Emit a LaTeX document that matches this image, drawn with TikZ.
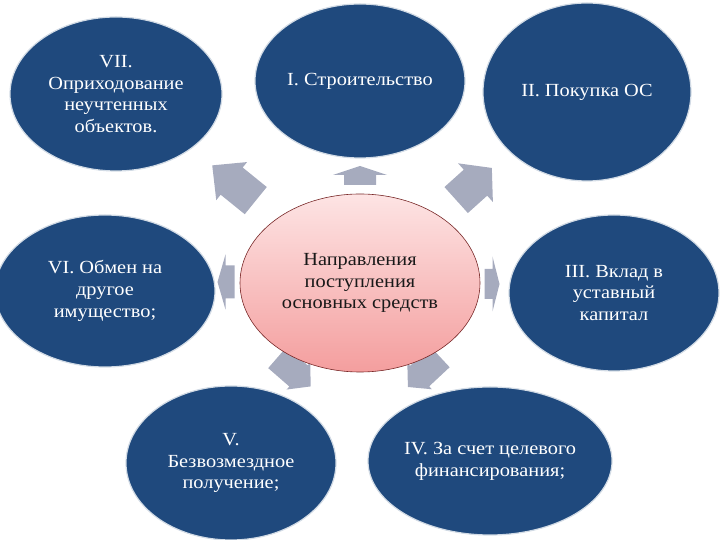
\documentclass[tikz,border=0pt]{standalone}
\usepackage{fontspec}
\setmainfont{Liberation Serif}
\newfontfamily\slidefont[FakeStretch=1.1]{Liberation Serif}
\usetikzlibrary{shapes.geometric}

\definecolor{navyblue}{RGB}{31,73,125}
\definecolor{hubtop}{RGB}{253,228,228}
\definecolor{hubbottom}{RGB}{244,158,158}
\definecolor{hubline}{RGB}{120,40,40}
\definecolor{arrowgray}{RGB}{166,171,190}

\begin{document}
\begin{tikzpicture}[
		x=1pt,y=1pt,
		lab/.style={font=\slidefont\fontsize{18.5}{21.7}\selectfont},
		way/.style={ellipse,lab,fill=navyblue,draw=white!80!navyblue,line width=1.2pt,
			text=white,align=center,inner sep=0pt},
		hub/.style={ellipse,lab,draw=hubline,line width=0.6pt,top color=hubtop,
			bottom color=hubbottom,text=black!90,align=center,inner sep=0pt},
		pics/blockarrow/.style n args={4}{code={
				% #1 length, #2 head length, #3 head width, #4 shaft width
				\fill[arrowgray] ({-#1/2},{-#4/2}) -- ({#1/2-#2},{-#4/2})
				-- ({#1/2-#2},{-#3/2}) -- ({#1/2},0) -- ({#1/2-#2},{#3/2})
				-- ({#1/2-#2},{#4/2}) -- ({-#1/2},{#4/2}) -- cycle;
		}}
		]
		\useasboundingbox (0,0) rectangle (720,540);
		% ===== Block arrows from the hub outwards =====
		\pic[rotate=90]  at (360,364.5) {blockarrow={19}{9}{54}{32}};
		\pic[rotate=141] at (234,357)   {blockarrow={56}{25}{49}{35}};
		\pic[rotate=42]  at (474,356)   {blockarrow={48}{22}{52}{35}};
		\pic[rotate=180] at (226,258)   {blockarrow={17}{8}{55}{33}};
		\pic[rotate=0]   at (492,256)   {blockarrow={15}{7}{55}{30}};
		\pic[rotate=-41] at (294,168)   {blockarrow={44}{16}{36}{28}};
		\pic[rotate=-137] at (424,168)  {blockarrow={44}{16}{36}{28}};
		% ===== Hub =====
		\node[hub,minimum width=240,minimum height=178] (hub) at (360,257)
		{Направления\\поступления\\основных средств};
		% ===== Ways of receipt =====
		\node[way,minimum width=210,minimum height=154] (build) at (360,459)
		{I. Строительство};
		\node[way,minimum width=208,minimum height=178] (purchase) at (587,448)
		{II. Покупка ОС};
		\node[way,minimum width=210,minimum height=156] (stake) at (614,247)
		{III. Вклад в\\уставный\\капитал};
		\node[way,minimum width=244,minimum height=148] (funding) at (490,79)
		{IV. За счет целевого\\финансирования;};
		\node[way,minimum width=210,minimum height=154] (gift) at (231,77)
		{V.\\Безвозмездное\\получение;};
		\node[way,minimum width=220,minimum height=152] (swap) at (105,249)
		{VI. Обмен на\\другое\\имущество;};
		\node[way,minimum width=212,minimum height=154] (found) at (116,446)
		{VII.\\Оприходование\\неучтенных\\объектов.};
	\end{tikzpicture}
\end{document}
